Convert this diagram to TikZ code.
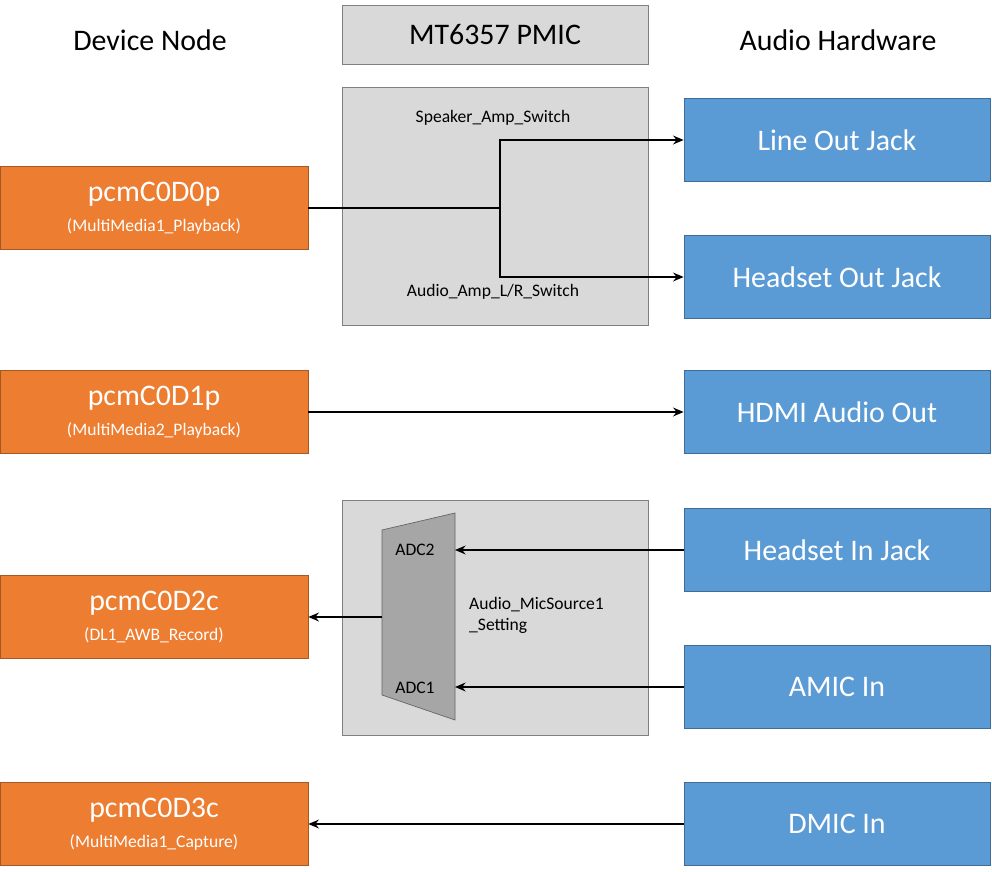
\documentclass[tikz,border=0pt]{standalone}
\usepackage{fontspec}
\setmainfont{Carlito}
\usetikzlibrary{arrows.meta}
\definecolor{org}{HTML}{ED7D31}
\definecolor{blu}{HTML}{5B9BD5}
\definecolor{gry}{HTML}{D9D9D9}
\newcommand{\smalltxt}{\fontsize{10}{12}\selectfont}
\begin{document}
\begin{tikzpicture}[x=0.02cm,y=-0.02cm,
  dev/.style={draw=org!70!black,fill=org,text=white,minimum width=6.16cm,minimum height=1.66cm,inner sep=0pt,align=center,font=\fontsize{17}{19}\selectfont},
  hw/.style={draw=blu!70!black,fill=blu,text=white,minimum width=6.12cm,minimum height=1.66cm,inner sep=0pt,font=\fontsize{17}{19}\selectfont},
  pm/.style={draw=gray,fill=gry},
  lab/.style={font=\smalltxt},
  con/.style={line width=1.2pt,-{Stealth[length=6pt,width=5pt]}}]
\useasboundingbox (0,0) rectangle (992,872);
\node[font=\fontsize{17}{19}\selectfont] (t1) at (150,40) {Device Node};
\node[font=\fontsize{17}{19}\selectfont] (t3) at (838,40) {Audio Hardware};
\node[pm,minimum width=6.12cm,minimum height=1.18cm,font=\fontsize{17}{19}\selectfont] (t2) at (495,35) {MT6357 PMIC};
\draw[pm] (342,87) rectangle (648,325);
\draw[pm] (342,500) rectangle (648,735);
\node[dev] (d0) at (154,208) {pcmC0D0p\\[-2pt]{\smalltxt (MultiMedia1\_Playback)}};
\node[dev] (d1) at (154,412) {pcmC0D1p\\[-2pt]{\smalltxt (MultiMedia2\_Playback)}};
\node[dev] (d2) at (154,617) {pcmC0D2c\\[-2pt]{\smalltxt (DL1\_AWB\_Record)}};
\node[dev] (d3) at (154,824) {pcmC0D3c\\[-2pt]{\smalltxt (MultiMedia1\_Capture)}};
\node[hw] (h0) at (837,140) {Line Out Jack};
\node[hw] (h1) at (837,277) {Headset Out Jack};
\node[hw] (h2) at (837,412) {HDMI Audio Out};
\node[hw] (h3) at (837,550) {Headset In Jack};
\node[hw] (h4) at (837,687) {AMIC In};
\node[hw] (h5) at (837,824) {DMIC In};
\draw[fill=gray!70,draw=gray!80!black] (382,530) -- (455,513) -- (455,720) -- (382,695) -- cycle;
\node[lab] (a2) at (415,550) {ADC2};
\node[lab] (a1) at (415,688) {ADC1};
\node[lab,align=left,anchor=west] (ms) at (463,615) {Audio\_MicSource1\\\_Setting};
\node[lab] (sp) at (493,118) {Speaker\_Amp\_Switch};
\node[lab] (am) at (493,292) {Audio\_Amp\_L/R\_Switch};
\coordinate (j) at (500,208);
\coordinate (adcL) at (382,617);
\coordinate (adc2) at (455,550);
\coordinate (adc1) at (455,687);
\draw[line width=1.2pt] (d0.east) -- (j);
\draw[con] (j) |- (h0.west);
\draw[con] (j) |- (h1.west);
\draw[con] (d1.east) -- (h2.west);
\draw[con] (h3.west) -- (adc2);
\draw[con] (h4.west) -- (adc1);
\draw[con] (adcL) -- (d2.east);
\draw[con] (h5.west) -- (d3.east);
\end{tikzpicture}
\end{document}
